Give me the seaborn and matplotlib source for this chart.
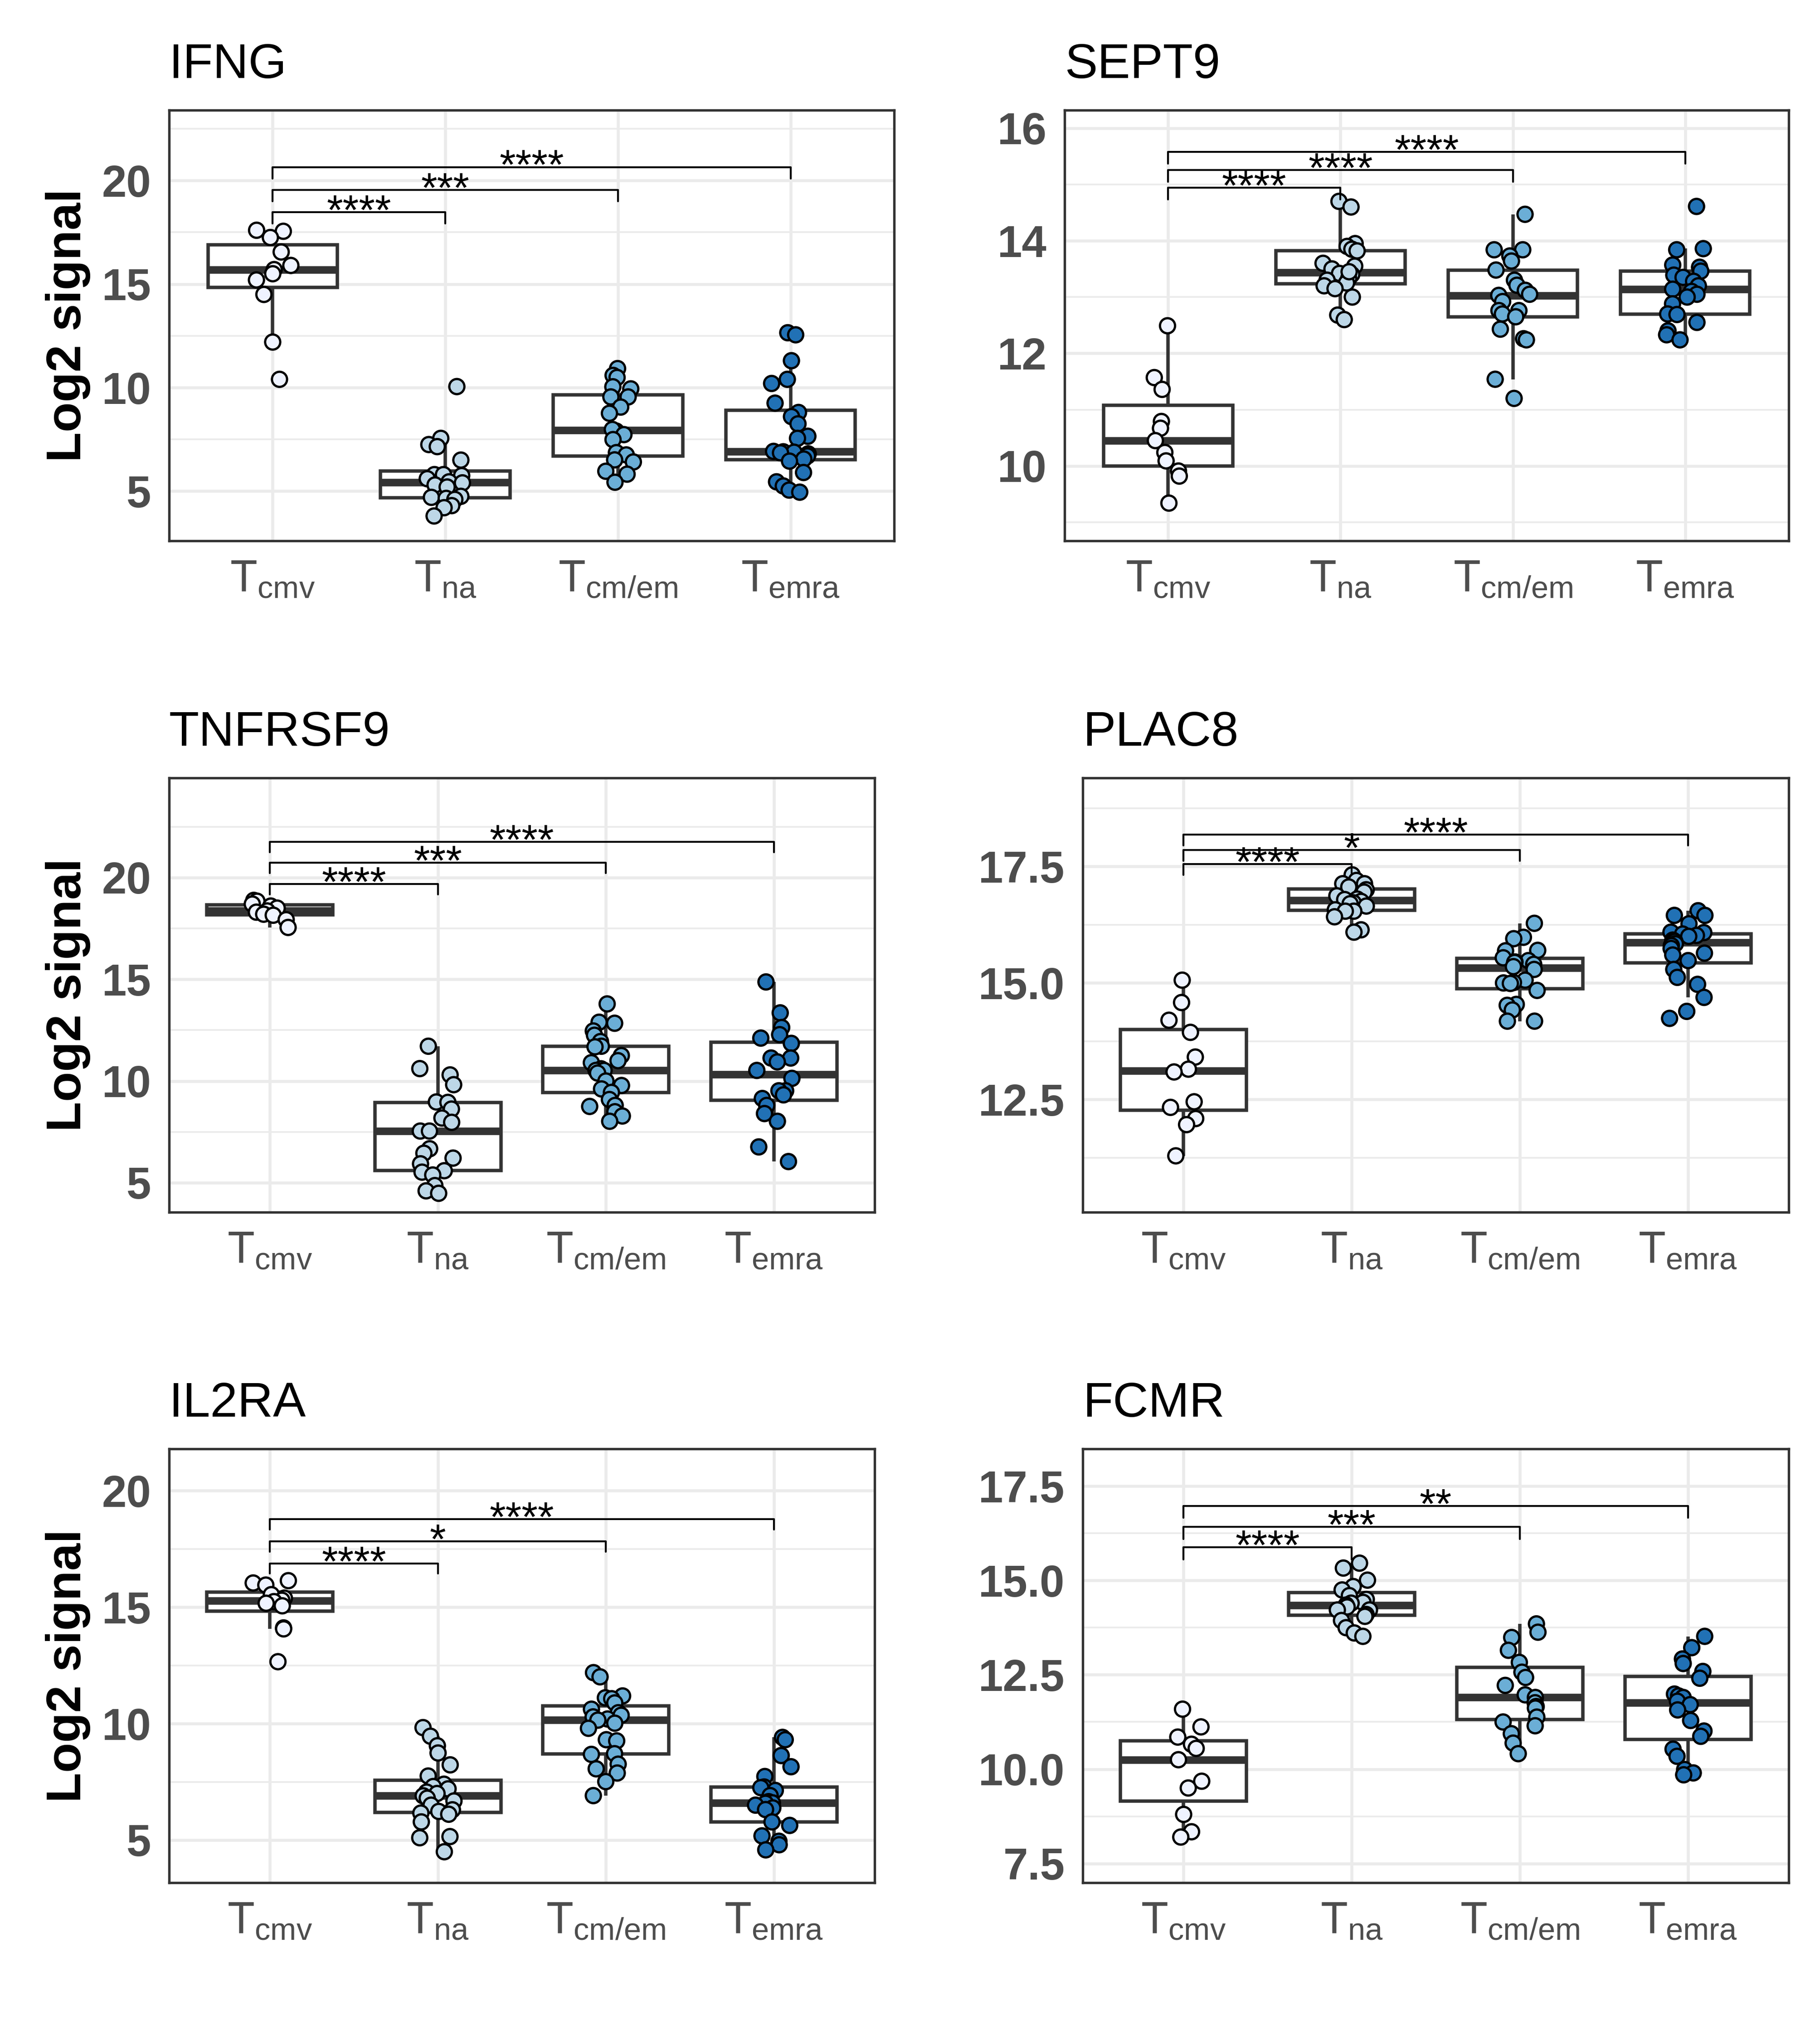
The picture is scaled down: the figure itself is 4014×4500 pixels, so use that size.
import numpy as np
import pandas as pd
import matplotlib
matplotlib.use("Agg")
import matplotlib.pyplot as plt
import seaborn as sns
from matplotlib.ticker import AutoMinorLocator, FormatStrFormatter

# --- Dados ---
GROUPS = ["Tcmv", "Tna", "Tcm/em", "Temra"]
TICK_LABELS = [r"$\mathregular{T_{cmv}}$", r"$\mathregular{T_{na}}$",
               r"$\mathregular{T_{cm/em}}$", r"$\mathregular{T_{emra}}$"]
COLORS = ["#EFF3FF", "#BDD7E7", "#6BAED6", "#2171B5"]

IFNG_CMV = [17.6, 17.55, 17.25, 16.55, 15.9, 15.7, 15.5, 15.2, 14.5, 12.2, 10.4]
IFNG_NA = [10.05, 7.55, 7.25, 7.15, 6.5, 5.8, 5.8, 5.75, 5.6, 5.45, 5.4, 5.3, 5.2,
           4.75, 4.7, 4.65, 4.6, 4.3, 4.2, 3.8]
IFNG_CMEM = [10.92, 10.59, 10.49, 10.04, 9.94, 9.55, 9.55, 9.06, 8.76, 7.9, 7.98,
             7.73, 7.49, 6.86, 6.75, 6.51, 6.41, 5.96, 5.82, 5.43]
IFNG_EMRA = [12.65, 12.55, 11.3, 10.4, 10.2, 9.25, 8.8, 8.6, 8.25, 7.65, 7.55, 6.92,
             6.9, 6.88, 6.85, 6.8, 6.7, 6.55, 6.45, 5.9, 5.45, 5.25, 5.05, 4.95]

SEPT9_CMV = [12.49, 11.57, 11.36, 10.79, 10.67, 10.45, 10.24, 10.09, 9.91, 9.82, 9.34]
SEPT9_NA = [14.7, 14.6, 13.95, 13.9, 13.85, 13.82, 13.6, 13.55, 13.5, 13.42, 13.4,
            13.33, 13.3, 13.25, 13.2, 13.15, 13.0, 12.68, 12.6, 13.45]
SEPT9_CMEM = [14.47, 13.84, 13.84, 13.73, 13.64, 13.48, 13.3, 13.21, 13.12, 13.05,
              13.03, 12.92, 12.76, 12.76, 12.7, 12.65, 12.43, 12.26, 12.24, 11.54, 11.2]
SEPT9_EMRA = [14.61, 13.86, 13.84, 13.57, 13.53, 13.46, 13.39, 13.35, 13.28, 13.2,
              13.14, 13.1, 13.05, 13.0, 12.88, 12.7, 12.69, 12.55, 12.4, 12.33, 12.24]

TNFRSF9_CMV = [18.88, 18.84, 18.7, 18.6, 18.5, 18.36, 18.3, 18.2, 18.15, 17.93, 17.55]
TNFRSF9_NA = [11.71, 10.61, 10.3, 9.82, 8.97, 8.95, 8.62, 8.18, 7.97, 7.54, 7.54,
              6.67, 6.45, 6.21, 5.93, 5.59, 5.52, 5.38, 4.86, 4.6, 4.48]
TNFRSF9_CMEM = [13.79, 12.89, 12.84, 12.46, 12.25, 11.94, 11.71, 11.68, 11.25, 11.0,
                10.9, 10.6, 10.52, 10.52, 10.39, 10.0, 9.78, 9.61, 9.44, 9.09, 8.8,
                8.75, 8.49, 8.28, 8.02]
TNFRSF9_EMRA = [14.87, 13.35, 12.63, 12.28, 12.11, 11.85, 11.13, 11.13, 10.94, 10.52,
                10.13, 9.52, 9.52, 9.32, 9.14, 8.8, 8.4, 8.02, 6.76, 6.04]

PLAC8_CMV = [15.06, 14.58, 14.2, 13.94, 13.41, 13.15, 13.09, 12.45, 12.33, 12.09, 11.96, 11.29]
PLAC8_NA = [17.32, 17.2, 17.13, 17.13, 17.06, 17.0, 16.95, 16.87, 16.8, 16.79, 16.75,
            16.72, 16.7, 16.65, 16.57, 16.54, 16.54, 16.42, 16.14, 16.09]
PLAC8_CMEM = [16.28, 15.98, 15.95, 15.7, 15.69, 15.54, 15.48, 15.45, 15.44, 15.4, 15.35,
              15.29, 15.06, 15.01, 15.0, 14.99, 14.84, 14.54, 14.52, 14.42, 14.18, 14.18]
PLAC8_EMRA = [16.55, 16.45, 16.45, 16.27, 16.09, 16.08, 16.05, 16.02, 16.0, 15.92, 15.9,
              15.89, 15.84, 15.8, 15.74, 15.64, 15.6, 15.48, 15.29, 15.12, 14.97, 14.69,
              14.39, 14.24]

IL2RA_CMV = [16.14, 16.04, 15.95, 15.54, 15.39, 15.3, 15.24, 15.17, 15.06, 14.11, 14.07, 12.66]
IL2RA_NA = [9.83, 9.46, 9.05, 8.74, 8.23, 7.75, 7.4, 7.3, 7.2, 7.06, 7.0, 6.9, 6.8, 6.68,
            6.5, 6.3, 6.23, 6.16, 6.11, 5.78, 5.15, 5.1, 4.5]
IL2RA_CMEM = [12.19, 12.01, 11.19, 11.11, 11.07, 10.89, 10.62, 10.47, 10.36, 10.29, 10.2,
              10.15, 10.02, 9.8, 9.31, 9.26, 8.71, 8.68, 8.26, 8.06, 7.88, 7.51, 6.91]
IL2RA_EMRA = [9.41, 9.31, 8.63, 8.15, 7.73, 7.28, 7.25, 7.13, 6.91, 6.65, 6.6, 6.58, 6.5,
              6.38, 6.31, 5.78, 5.63, 5.18, 4.95, 4.8, 4.58]

FCMR_CMV = [11.59, 11.12, 10.85, 10.66, 10.55, 10.25, 9.68, 9.5, 8.8, 8.34, 8.2]
FCMR_NA = [15.46, 15.33, 15.01, 14.84, 14.75, 14.6, 14.5, 14.42, 14.4, 14.35, 14.3,
           14.22, 14.22, 14.1, 14.05, 13.94, 13.75, 13.61, 13.52]
FCMR_CMEM = [13.85, 13.63, 13.49, 13.15, 12.83, 12.57, 12.43, 12.22, 11.97, 11.9, 11.76,
             11.66, 11.62, 11.38, 11.25, 11.15, 10.94, 10.69, 10.41]
FCMR_EMRA = [13.52, 13.22, 12.92, 12.8, 12.59, 12.41, 11.99, 11.94, 11.9, 11.8, 11.71,
             11.57, 11.29, 11.01, 10.87, 10.53, 10.34, 9.99, 9.9, 9.85]

# significância Tcmv vs Tna, Tcm/em, Temra
IFNG_STARS = ["****", "***", "****"]
SEPT9_STARS = ["****", "****", "****"]
TNFRSF9_STARS = ["****", "***", "****"]
PLAC8_STARS = ["****", "*", "****"]
IL2RA_STARS = ["****", "*", "****"]
FCMR_STARS = ["****", "***", "**"]

# --- Configuração de cada painel (eixos, colchetes) ---
W, H = 4014, 4500
PANELS = [
    dict(name="IFNG", data=[IFNG_CMV, IFNG_NA, IFNG_CMEM, IFNG_EMRA], stars=IFNG_STARS,
         sig_y=[18.47, 19.55, 20.65], tip=0.55, ylim=(2.6, 23.4), yticks=[5, 10, 15, 20],
         fmt="%d", box=(373, 1972, 243, 1193), ylabel=True),
    dict(name="SEPT9", data=[SEPT9_CMV, SEPT9_NA, SEPT9_CMEM, SEPT9_EMRA], stars=SEPT9_STARS,
         sig_y=[14.94, 15.26, 15.58], tip=0.21, ylim=(8.67, 16.32), yticks=[10, 12, 14, 16],
         fmt="%d", box=(2348, 3945, 243, 1193), ylabel=False),
    dict(name="TNFRSF9", data=[TNFRSF9_CMV, TNFRSF9_NA, TNFRSF9_CMEM, TNFRSF9_EMRA],
         stars=TNFRSF9_STARS, sig_y=[19.69, 20.73, 21.76], tip=0.52, ylim=(3.55, 24.9),
         yticks=[5, 10, 15, 20], fmt="%d", box=(373, 1929, 1716, 2674), ylabel=True),
    dict(name="PLAC8", data=[PLAC8_CMV, PLAC8_NA, PLAC8_CMEM, PLAC8_EMRA], stars=PLAC8_STARS,
         sig_y=[17.55, 17.85, 18.18], tip=0.23, ylim=(10.08, 19.4), yticks=[12.5, 15, 17.5],
         fmt="%.1f", box=(2388, 3945, 1716, 2674), ylabel=False),
    dict(name="IL2RA", data=[IL2RA_CMV, IL2RA_NA, IL2RA_CMEM, IL2RA_EMRA], stars=IL2RA_STARS,
         sig_y=[16.88, 17.82, 18.78], tip=0.44, ylim=(3.17, 21.8), yticks=[5, 10, 15, 20],
         fmt="%d", box=(373, 1929, 3196, 4153), ylabel=True),
    dict(name="FCMR", data=[FCMR_CMV, FCMR_NA, FCMR_CMEM, FCMR_EMRA], stars=FCMR_STARS,
         sig_y=[15.88, 16.42, 16.98], tip=0.32, ylim=(6.99, 18.49),
         yticks=[7.5, 10, 12.5, 15, 17.5], fmt="%.1f", box=(2388, 3945, 3196, 4153),
         ylabel=False),
]

sns.set_theme(style="white")
plt.rcParams["font.family"] = ["Liberation Sans", "DejaVu Sans"]
plt.rcParams["mathtext.default"] = "regular"

EDGE = "#333333"
GRID = "#EBEBEB"
TICKTXT = "#4D4D4D"

np.random.seed(7)
fig = plt.figure(figsize=(W / 300, H / 300), dpi=300)

for p in PANELS:
    l, r, t, b = p["box"]
    ax = fig.add_axes([l / W, 1 - b / H, (r - l) / W, (b - t) / H])

    df = pd.DataFrame({
        "group": np.repeat(GROUPS, [len(v) for v in p["data"]]),
        "value": np.concatenate(p["data"]),
    })

    sns.boxplot(data=df, x="group", y="value", order=GROUPS, color="white",
                width=0.75, linewidth=1.8, linecolor=EDGE, showcaps=False,
                showfliers=False, whis=1.5,
                boxprops=dict(facecolor="white", edgecolor=EDGE),
                medianprops=dict(linewidth=4.0, color=EDGE),
                whiskerprops=dict(linewidth=1.8, color=EDGE),
                ax=ax, zorder=2)
    sns.stripplot(data=df, x="group", y="value", hue="group", order=GROUPS,
                  hue_order=GROUPS, palette=COLORS, jitter=0.11, size=8,
                  linewidth=1.2, edgecolor="black", legend=False, ax=ax, zorder=3)

    # colchetes de significância
    for j, (y, lab) in enumerate(zip(p["sig_y"], p["stars"]), start=1):
        ax.plot([0, 0, j, j], [y - p["tip"], y, y, y - p["tip"]], color="black",
                lw=1.0, zorder=4)
        ax.annotate(lab, xy=(j / 2, y), xytext=(0, -6.3), textcoords="offset points",
                    ha="center", va="baseline", fontsize=22, color="black")

    ax.set_xlim(-0.6, 3.6)
    ax.set_ylim(*p["ylim"])
    ax.set_xticks(range(len(GROUPS)))
    ax.set_xticklabels(TICK_LABELS)
    ax.set_yticks(p["yticks"])
    ax.yaxis.set_major_formatter(FormatStrFormatter(p["fmt"]))
    ax.yaxis.set_minor_locator(AutoMinorLocator(2))

    ax.set_axisbelow(True)
    ax.grid(which="major", axis="both", color=GRID, lw=1.6)
    ax.grid(which="minor", axis="y", color=GRID, lw=0.9)

    for s in ax.spines.values():
        s.set_visible(True)
        s.set_color(EDGE)
        s.set_linewidth(1.3)

    ax.tick_params(which="major", direction="out", length=5.5, width=1.3,
                   color=EDGE, labelcolor=TICKTXT, pad=4)
    ax.tick_params(which="minor", length=0)
    ax.tick_params(axis="x", labelsize=23.5)
    ax.tick_params(axis="y", labelsize=23.5)
    for lab in ax.get_yticklabels():
        lab.set_fontweight("bold")

    ax.set_xlabel("")
    if p["ylabel"]:
        ax.set_ylabel("Log2 signal", fontsize=26, fontweight="bold", color="black",
                      labelpad=6)
    else:
        ax.set_ylabel("")
    ax.set_title(p["name"], loc="left", fontsize=26, pad=17, color="black")

fig.savefig("out.png", dpi=300, facecolor="white")
